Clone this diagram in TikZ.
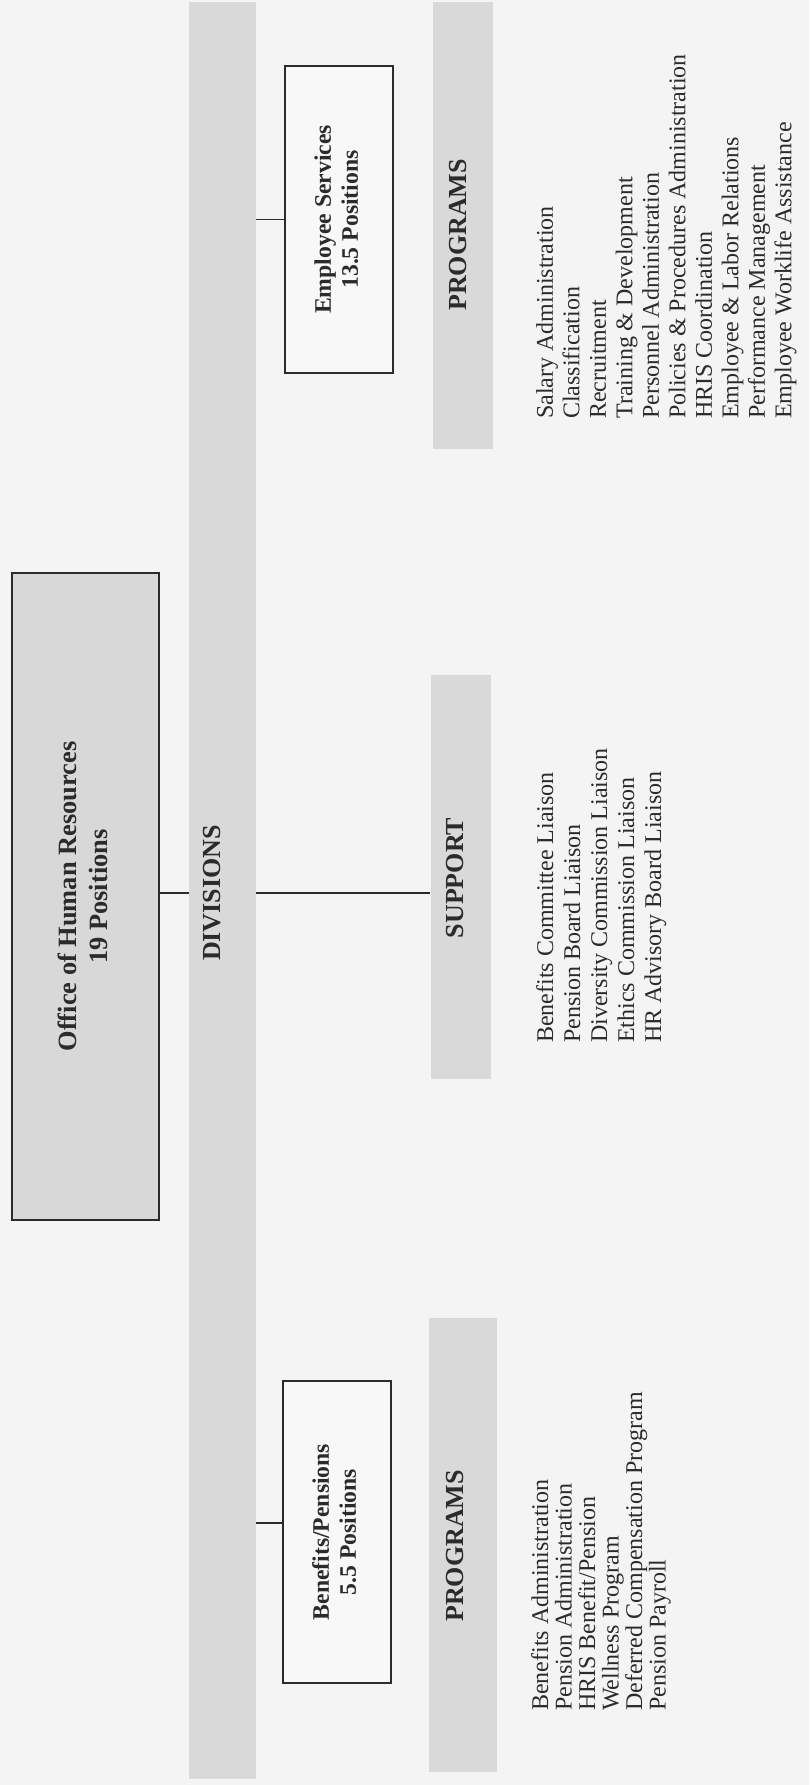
\documentclass[tikz,border=0pt]{standalone}
\usepackage{fontspec}
\setmainfont{Liberation Serif}
\usepackage{graphicx}
\definecolor{bg}{HTML}{F4F4F4}
\definecolor{barfill}{HTML}{D9D9D9}
\definecolor{ohrfill}{HTML}{D8D8D8}
\definecolor{boxfill}{HTML}{F8F8F8}
\definecolor{ink}{HTML}{2B2B2B}
\begin{document}
\begin{tikzpicture}[x=1pt,y=-1pt,
  barbox/.style={fill=barfill, draw=none, inner sep=0pt},
  headbox/.style={draw=ink, line width=1.4pt, inner sep=0pt},
  barlabel/.style={rotate=90, font=\bfseries\fontsize{26}{30}\selectfont, inner sep=0pt, text=ink},
  titletext/.style={font=\bfseries\fontsize{23.7}{27}\selectfont, text=ink},
  listtext/.style={rotate=90, anchor=north west, align=left, inner sep=0pt, text=ink},
  link/.style={draw=ink, line width=1.2pt}]
\fill[bg] (0,0) rectangle (809,1785);
\useasboundingbox (0,0) rectangle (809,1785);

% bars
\node[barbox, minimum width=67, minimum height=1777] (div) at (222.5,890.5) {};
\node[barbox, minimum width=60, minimum height=447] (progtop) at (462.5,225.5) {};
\node[barbox, minimum width=60, minimum height=404] (sup) at (460.5,877) {};
\node[barbox, minimum width=68, minimum height=454] (progbot) at (463,1545) {};

% bar labels
\node[barlabel] (divlbl) at (212,893) {DIVISIONS};
\node[barlabel] (suplbl) at (455,878) {SUPPORT};
\node[barlabel] (ptlbl) at (458,235) {PROGRAMS};
\node[barlabel] (pblbl) at (455,1546) {PROGRAMS};

% head boxes
\node[headbox, fill=ohrfill, minimum width=147, minimum height=647, font=\bfseries\fontsize{26.4}{31}\selectfont, text=ink] (ohr) at (85.5,896.5)
  {\rotatebox{90}{\begin{tabular}{@{}c@{}}Office of Human Resources\\19 Positions\end{tabular}}};
\node[headbox, fill=boxfill, minimum width=108, minimum height=307, titletext] (es) at (339,219.5)
  {\rotatebox{90}{\begin{tabular}{@{}c@{}}Employee Services\\13.5 Positions\end{tabular}}};
\node[headbox, fill=boxfill, minimum width=108, minimum height=302, titletext] (bp) at (337,1532)
  {\rotatebox{90}{\begin{tabular}{@{}c@{}}Benefits/Pensions\\5.5 Positions\end{tabular}}};

% connectors
\coordinate (hub) at ([yshift=3.5pt]ohr.east);
\draw[link] (hub) -- (hub -| div.west);
\draw[link] (hub -| div.east) -- (hub -| sup.west);
\draw[link] (es.west) -- (es.west -| div.east);
\coordinate (bphook) at ([yshift=9pt]bp.west);
\draw[link] (bphook) -- (bphook -| div.east);

% lists
\node[listtext, font=\fontsize{24}{26.5}\selectfont] (eslist) at (536,419)
  {Salary Administration\\Classification\\Recruitment\\Training \& Development\\Personnel Administration\\Policies \& Procedures Administration\\HRIS Coordination\\Employee \& Labor Relations\\Performance Management\\Employee Worklife Assistance};
\node[listtext, font=\fontsize{24}{27}\selectfont] (suplist) at (536,1043)
  {Benefits Committee Liaison\\Pension Board Liaison\\Diversity Commission Liaison\\Ethics Commission Liaison\\HR Advisory Board Liaison};
\node[listtext, font=\fontsize{24}{23.5}\selectfont] (bplist) at (531,1711)
  {Benefits Administration\\Pension Administration\\HRIS Benefit/Pension\\Wellness Program\\Deferred Compensation Program\\Pension Payroll};
\end{tikzpicture}
\end{document}
